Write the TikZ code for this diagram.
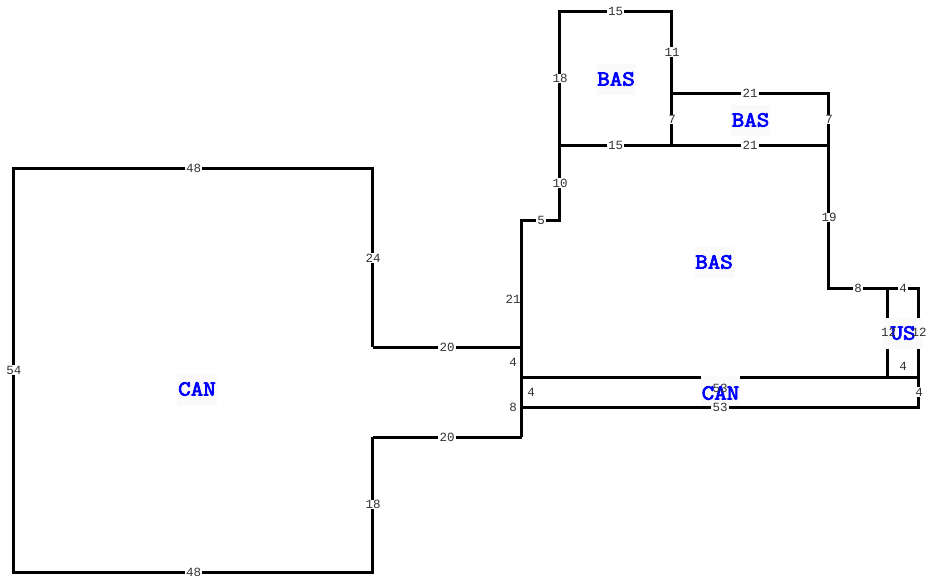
\documentclass[tikz,border=0pt]{standalone}
\usepackage{fontspec}
\setmainfont{Liberation Mono}
\newfontfamily\roomfont{Latin Modern Mono}[FakeBold=3.6,FakeStretch=1.13]
\definecolor{roombg}{HTML}{FAFAFA}
\definecolor{numc}{HTML}{333333}
\tikzset{
  wall/.style={line width=3pt,line cap=butt,line join=miter,black,xshift=-0.25pt},
  room/.style={font=\roomfont\fontsize{21.5}{21.5}\selectfont,text=blue,inner sep=0pt},
  roombox/.style={fill=roombg,inner sep=0pt,minimum width=39.5pt,minimum height=31pt},
  num/.style={font=\fontsize{12.5}{12.5}\selectfont,text=numc,fill=white,inner xsep=1.2pt,inner ysep=0.6pt},
  numclear/.style={font=\fontsize{12.5}{12.5}\selectfont,text=numc,inner sep=0pt},
}
\begin{document}
\begin{tikzpicture}[x=1pt,y=-1pt]
\useasboundingbox (0,0) rectangle (931,581);
\fill[white] (0,0) rectangle (931,581);
\draw[wall] (373,347) -- (373,168) -- (14,168) -- (14,572) -- (373,572) -- (373,437);
\draw[wall] (373,347) -- (522,347);
\draw[wall] (373,437) -- (522,437);
\draw[wall] (522,437) -- (522,220) -- (560,220) -- (560,11) -- (672,11) -- (672,145);
\draw[wall] (672,93) -- (829,93) -- (829,288) -- (919,288) -- (919,407) -- (522,407);
\draw[wall] (560,145) -- (829,145);
\draw[wall] (522,377) -- (919,377);
\draw[wall] (888,288) -- (888,377);
% room label backgrounds
\node[roombox] at (197,389) {};
\node[roombox] at (616,79) {};
\node[roombox] at (750.5,120) {};
\node[roombox] at (714,262) {};
\node[roombox] at (720.5,391.5) {};
\node[roombox] at (903,333) {};
\draw[wall] (522,407) -- (919,407);
% room labels
\node[room] (r1) at (197,389) {CAN};
\node[room] (r2) at (616,79) {BAS};
\node[room] (r3) at (750.5,120) {BAS};
\node[room] (r4) at (714,262) {BAS};
\node[room] (r5) at (720.5,393) {CAN};
\node[room] (r6) at (903,333) {US};
% lengths
\node[num] (n1) at (193.5,168) {48};
\node[num] (n2) at (373,258) {24};
\node[num] (n3) at (447,347) {20};
\node[num] (n4) at (447,437) {20};
\node[num] (n5) at (373,504.5) {18};
\node[num] (n6) at (193.5,572) {48};
\node[num] (n7) at (14,370) {54};
\node[num] (n8) at (541,220) {5};
\node[num] (n9) at (560,183) {10};
\node[num] (n10) at (560,78.5) {18};
\node[num] (n11) at (615.5,11) {15};
\node[num] (n12) at (672,52) {11};
\node[num] (n13) at (615.5,145.5) {15};
\node[num] (n14) at (672,119.5) {7};
\node[num] (n15) at (750,93) {21};
\node[num] (n16) at (750,145.5) {21};
\node[num] (n17) at (829,119.5) {7};
\node[num] (n18) at (829,217.5) {19};
\node[num] (n19) at (858,288) {8};
\node[num] (n20) at (903,288) {4};
\node[numclear] (n21) at (888.5,332) {12};
\node[numclear] (n22) at (919,332) {12};
\node[numclear] (n23) at (903,366.5) {4};
\node[num] (n24) at (919,392) {4};
\node[numclear] (n25) at (720,388) {53};
\node[num] (n26) at (720,407) {53};
\node[numclear] (n27) at (531,392) {4};
\node[numclear] (n28) at (513,362) {4};
\node[numclear] (n29) at (513,407) {8};
\node[numclear] (n30) at (513,299) {21};
\end{tikzpicture}
\end{document}
